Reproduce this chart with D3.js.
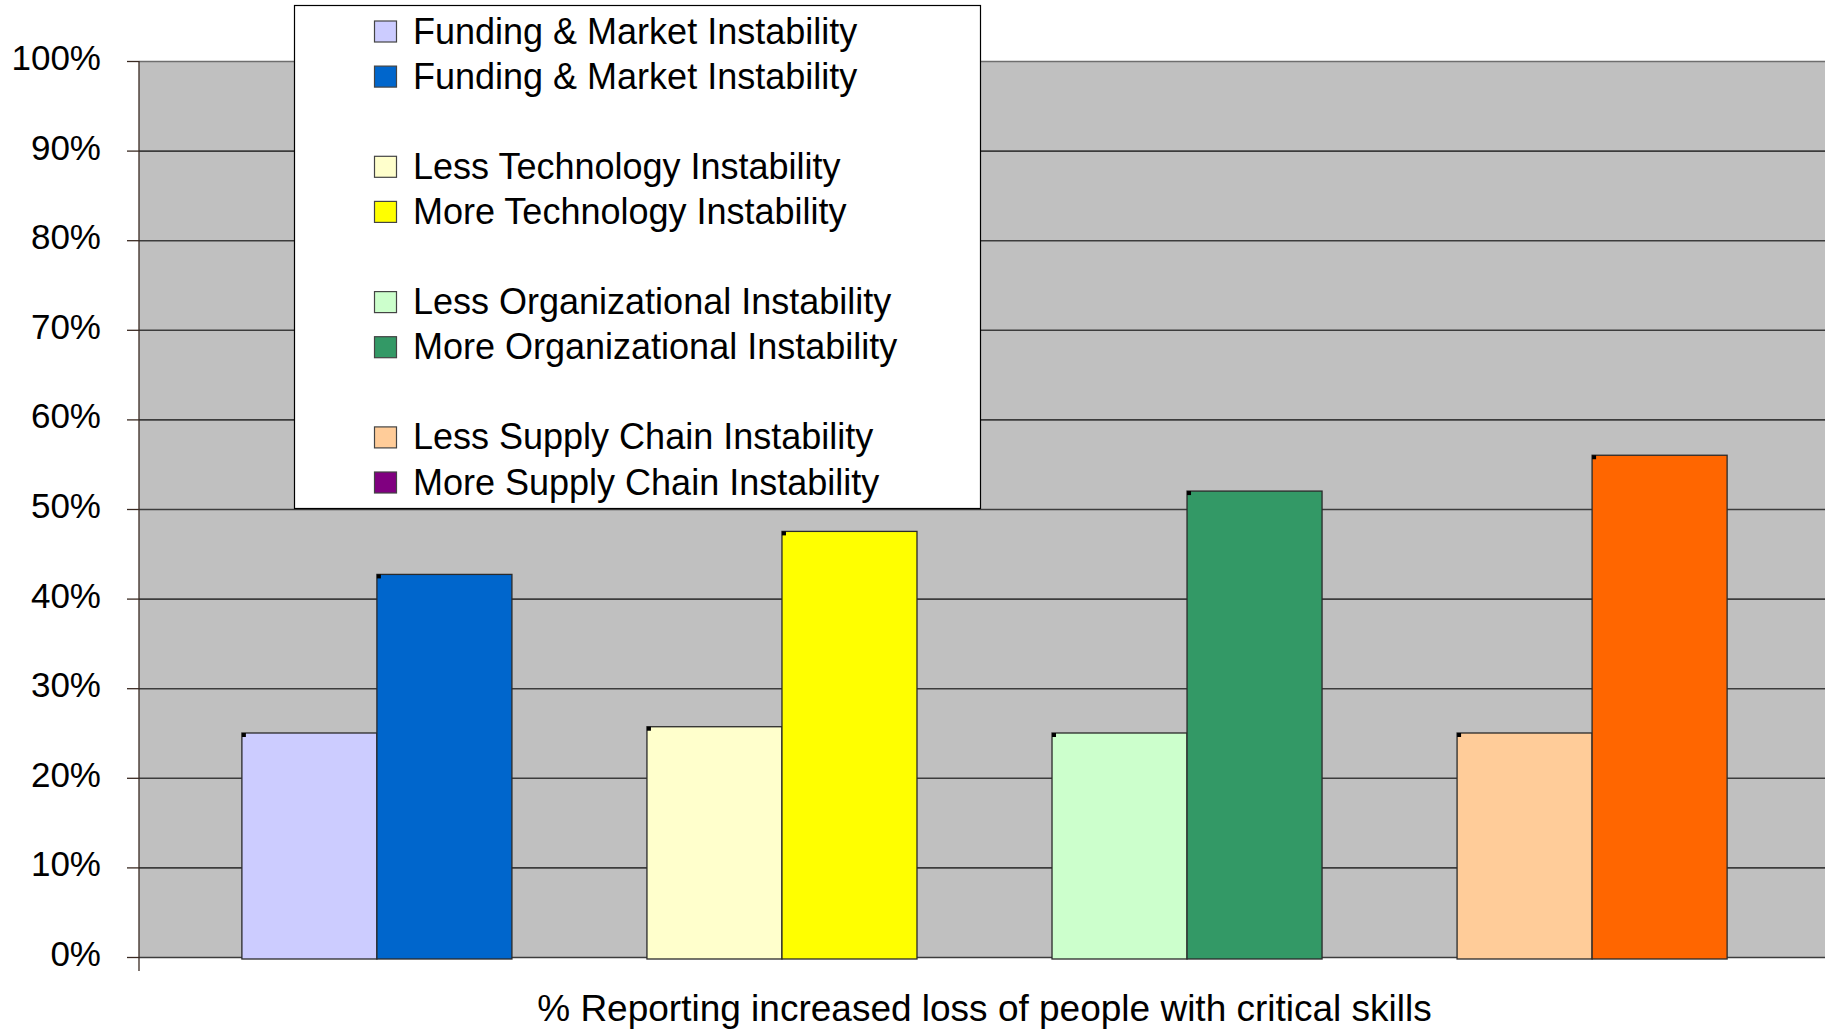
<!DOCTYPE html>
<html>
<head>
<meta charset="utf-8">
<script src="https://cdn.jsdelivr.net/npm/d3@7/dist/d3.min.js"></script>
<style>
  html, body { margin: 0; padding: 0; background: #ffffff; }
  svg { display: block; font-family: "Liberation Sans", Arial, sans-serif; }
</style>
</head>
<body>
<svg id="chart" width="1825" height="1032"></svg>
<script>
// Instability types, each with a "less" and a "more" bar
const groups = ["Funding & Market", "Technology", "Organizational", "Supply Chain"];
const lessLabels = ["Funding & Market Instability", "Less Technology Instability",
                    "Less Organizational Instability", "Less Supply Chain Instability"];
const moreLabels = ["Funding & Market Instability", "More Technology Instability",
                    "More Organizational Instability", "More Supply Chain Instability"];
const lessValues = [0.25, 0.257, 0.25, 0.25];
const moreValues = [0.427, 0.475, 0.52, 0.56];
const lessColors = ["#CCCCFF", "#FFFFCC", "#CCFFCC", "#FFCC99"];
const moreColors = ["#0066CC", "#FFFF00", "#339966", "#FF6600"];
const moreLegendColors = ["#0066CC", "#FFFF00", "#339966", "#800080"];
const yTicks = [0, 0.1, 0.2, 0.3, 0.4, 0.5, 0.6, 0.7, 0.8, 0.9, 1.0];
const xTitle = "% Reporting increased loss of people with critical skills";

const svg = d3.select("#chart");
const plot = { left: 139, right: 1830, top: 61, bottom: 957 };

const y = d3.scaleLinear().domain([0, 1]).range([plot.bottom, plot.top]);
const x0 = d3.scaleBand().domain(groups)
  .range([plot.left, plot.right]).paddingInner(1 / 3).paddingOuter(0.254);
const x1 = d3.scaleBand().domain(["less", "more"]).range([0, x0.bandwidth()]).padding(0);

// Plot area background
svg.append("rect")
  .attr("x", plot.left).attr("y", plot.top)
  .attr("width", plot.right - plot.left).attr("height", plot.bottom - plot.top)
  .attr("fill", "#C0C0C0");

// Horizontal gridlines
const grid = svg.append("g")
  .attr("transform", `translate(${plot.left},0)`)
  .call(d3.axisLeft(y).tickValues(yTicks).tickSize(-(plot.right - plot.left)).tickFormat(""));
grid.select(".domain").remove();
grid.selectAll(".tick line")
  .attr("stroke", d => d === 1 ? "#6e6e6e" : "#3c3c3c")
  .attr("stroke-width", 1.6);

// Bars
const rows = groups.map((g, i) => ({
  group: g,
  bars: [
    { key: "less", value: lessValues[i], color: lessColors[i] },
    { key: "more", value: moreValues[i], color: moreColors[i] }
  ]
}));

const gBars = svg.append("g").selectAll("g").data(rows).join("g")
  .attr("transform", d => `translate(${x0(d.group)},0)`);

gBars.selectAll("rect.bar").data(d => d.bars).join("rect")
  .attr("class", "bar")
  .attr("x", d => x1(d.key))
  .attr("y", d => y(d.value))
  .attr("width", x1.bandwidth())
  .attr("height", d => y(0) - y(d.value) + 2)
  .attr("fill", d => d.color)
  .attr("stroke", "#2a2a2a")
  .attr("stroke-width", 1.3);

// small dark corner mark at each bar's top-left
gBars.selectAll("rect.corner").data(d => d.bars).join("rect")
  .attr("class", "corner")
  .attr("x", d => x1(d.key))
  .attr("y", d => y(d.value))
  .attr("width", 4).attr("height", 4)
  .attr("fill", "#000");

// Y axis with labels
const yAxis = svg.append("g")
  .attr("transform", `translate(${plot.left},0)`)
  .call(d3.axisLeft(y).tickValues(yTicks).tickSize(12).tickPadding(26)
    .tickFormat(d3.format(".0%")));
yAxis.select(".domain")
  .attr("d", `M0,${plot.top}V${plot.bottom + 14}`)
  .attr("stroke", "#3a2a22").attr("stroke-width", 1.3);
yAxis.selectAll(".tick line").attr("stroke", "#3a2a22").attr("stroke-width", 1.3);
yAxis.selectAll(".tick text")
  .attr("font-size", 35)
  .attr("font-family", "Liberation Sans, Arial, sans-serif")
  .attr("fill", "#000")
  .attr("dy", "0.24em");

// X axis title
svg.append("text")
  .attr("x", (plot.left + plot.right) / 2)
  .attr("y", 1021)
  .attr("text-anchor", "middle")
  .attr("font-size", 37)
  .attr("fill", "#000")
  .text(xTitle);

// Legend (blank rows separate the pairs)
const legendItems = [];
groups.forEach((g, i) => {
  legendItems.push({ label: lessLabels[i], color: lessColors[i] });
  legendItems.push({ label: moreLabels[i], color: moreLegendColors[i] });
  if (i < groups.length - 1) legendItems.push(null);
});

const legend = svg.append("g");
legend.append("rect")
  .attr("x", 294.5).attr("y", 5.5)
  .attr("width", 686).attr("height", 503)
  .attr("fill", "#fff").attr("stroke", "#000").attr("stroke-width", 1.2);

const rowStep = 45.1;
const entries = legend.selectAll("g.entry")
  .data(legendItems.map((d, i) => ({ d, i })).filter(e => e.d))
  .join("g").attr("class", "entry")
  .attr("transform", e => `translate(0,${31.5 + e.i * rowStep})`);

entries.append("rect")
  .attr("x", 374.5).attr("y", -10.5)
  .attr("width", 22).attr("height", 21)
  .attr("fill", e => e.d.color)
  .attr("stroke", "#444").attr("stroke-width", 1.2);

entries.append("text")
  .attr("x", 413).attr("y", 12)
  .attr("font-size", 36)
  .attr("fill", "#000")
  .text(e => e.d.label);
</script>
</body>
</html>
